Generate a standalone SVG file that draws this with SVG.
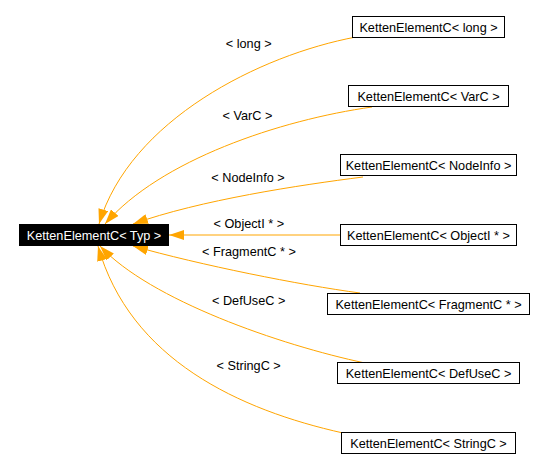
<svg xmlns="http://www.w3.org/2000/svg" width="545" height="473" viewBox="0 0 545 473">
<style>
text{font-family:"Liberation Sans",Arial,sans-serif;font-size:12.7px;text-anchor:middle;fill:#000}
.box{fill:#fff;stroke:#000;stroke-width:1}
.main{fill:#000;stroke:#000}
.main-t{fill:#fff}
.edge{fill:none;stroke:#ffa500;stroke-width:1;marker-end:url(#arr)}
</style>
<defs>
<marker id="arr" markerUnits="userSpaceOnUse" markerWidth="15" markerHeight="10" viewBox="0 0 15 10" refX="15" refY="5" orient="auto">
<path d="M0,0 L15,5 L0,10 Z" fill="#ffa500"/>
</marker>
</defs>
<rect width="545" height="473" fill="#fff"/>
<g id="edges">
<path class="edge" d="M356,37 C260,55 130,120 99,224"/>
<path class="edge" d="M372,107 C280,120 160,160 105,224"/>
<path class="edge" d="M363,177 C300,185 200,200 133,224"/>
<path class="edge" d="M340,235 L169,235"/>
<path class="edge" d="M360,293 C300,285 200,265 133,246"/>
<path class="edge" d="M365,363 C280,345 150,300 100,246"/>
<path class="edge" d="M343,433 C240,410 130,360 98,246"/>
<text x="248.7" y="48">&lt; long &gt;</text>
<text x="247.5" y="120">&lt; VarC &gt;</text>
<text x="248" y="182">&lt; NodeInfo &gt;</text>
<text x="248.8" y="228">&lt; ObjectI * &gt;</text>
<text x="249" y="256">&lt; FragmentC * &gt;</text>
<text x="248.7" y="305">&lt; DefUseC &gt;</text>
<text x="248.7" y="370">&lt; StringC &gt;</text>
</g>
<g id="typ">
<rect class="main" x="19.5" y="224.5" width="149" height="21"/>
<text class="main-t" x="94" y="239.5">KettenElementC&lt; Typ &gt;</text>
</g>
<g id="long">
<rect class="box" x="352.5" y="16.5" width="152" height="21"/>
<text x="428.5" y="31.5">KettenElementC&lt; long &gt;</text>
</g>
<g id="varc">
<rect class="box" x="348.5" y="85.5" width="160" height="21"/>
<text x="428.5" y="100.5">KettenElementC&lt; VarC &gt;</text>
</g>
<g id="nodeinfo">
<rect class="box" x="340.5" y="154.5" width="176" height="21"/>
<text x="428.5" y="169.5">KettenElementC&lt; NodeInfo &gt;</text>
</g>
<g id="objecti">
<rect class="box" x="340.5" y="224.5" width="176" height="21"/>
<text x="428.5" y="239.5">KettenElementC&lt; ObjectI * &gt;</text>
</g>
<g id="fragmentc">
<rect class="box" x="327.5" y="293.5" width="202" height="21"/>
<text x="428.5" y="308.5">KettenElementC&lt; FragmentC * &gt;</text>
</g>
<g id="defusec">
<rect class="box" x="337.5" y="362.5" width="182" height="21"/>
<text x="428.5" y="377.5">KettenElementC&lt; DefUseC &gt;</text>
</g>
<g id="stringc">
<rect class="box" x="341.5" y="432.5" width="174" height="21"/>
<text x="428.5" y="447.5">KettenElementC&lt; StringC &gt;</text>
</g>
</svg>
